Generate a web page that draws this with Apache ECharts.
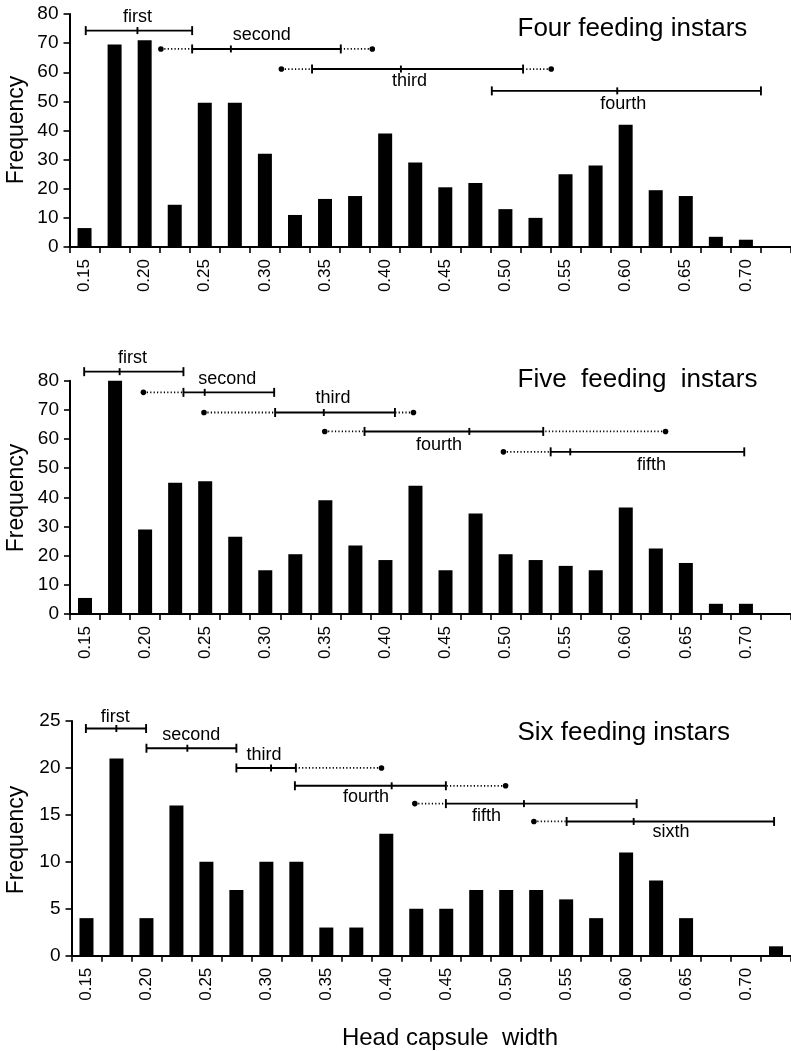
<!DOCTYPE html>
<html>
<head>
<meta charset="utf-8">
<title>Head capsule width frequency</title>
<script src="https://cdn.jsdelivr.net/npm/echarts@6/dist/echarts.min.js"></script>
<style>
  html, body { margin: 0; padding: 0; background: #fff; }
  #chart { width: 791px; height: 1051px; }
</style>
</head>
<body>
<div id="chart"></div>
<script>
// bin centres of head capsule width, 0.025 apart
const widthBins = ['0.150', '0.175', '0.200', '0.225', '0.250', '0.275', '0.300', '0.325',
  '0.350', '0.375', '0.400', '0.425', '0.450', '0.475', '0.500', '0.525',
  '0.550', '0.575', '0.600', '0.625', '0.650', '0.675', '0.700', '0.725']

// frequencies per bin
const fourFreq = [6.5, 69.5, 71, 14.5, 49.5, 49.5, 32, 11, 16.5, 17.5, 39, 29,
  20.5, 22, 13, 10, 25, 28, 42, 19.5, 17.5, 3.5, 2.5]
const fiveFreq = [5.5, 81, 29, 45, 45.5, 26.5, 15, 20.5, 39, 23.5, 18.5, 44,
  15, 34.5, 20.5, 18.5, 16.5, 15, 36.5, 22.5, 17.5, 3.5, 3.5]
const sixFreq = [4, 21, 4, 16, 10, 7, 10, 10, 3, 3, 13, 5,
  5, 7, 7, 7, 6, 4, 11, 8, 4, 0, 0, 1]

const instarNames = ['first', 'second', 'third', 'fourth', 'fifth', 'sixth']

// instar ranges: [dotted start, range start, mean, range end, dotted end]
const fourRanges = [
  [null, 0.151, 0.194, 0.2395, null],
  [0.2135, 0.2395, 0.2717, 0.3631, 0.3893],
  [0.3137, 0.3392, 0.4131, 0.5147, 0.5381],
  [null, 0.4887, 0.593, 0.7125, null]
]
const fiveRanges = [
  [null, 0.1493, 0.1788, 0.2319, null],
  [0.1986, 0.2319, 0.2496, 0.3074, null],
  [0.249, 0.3082, 0.3487, 0.4079, 0.4233],
  [0.3495, 0.3826, 0.4698, 0.5313, 0.6331],
  [0.4982, 0.5375, 0.5538, 0.6986, null]
]
const sixRanges = [
  [null, 0.1495, 0.1749, 0.1997, null],
  [null, 0.2, 0.2341, 0.275, null],
  [null, 0.275, 0.3039, 0.3246, 0.396],
  [null, 0.3238, 0.4045, 0.4497, 0.4995],
  [0.4238, 0.4497, 0.5148, 0.6088, null],
  [0.5231, 0.5504, 0.6063, 0.7234, null]
]

// where each range row is drawn: [frequency level, label x, label offset px]
const fourRows = [[74.3, 0.194, -14], [68.0, 0.2973, -14], [61.1, 0.4202, 12], [53.6, 0.598, 13]]
const fiveRows = [[83.1, 0.1895, -14], [76.0, 0.2683, -13], [69.1, 0.3564, -14], [62.6, 0.4445, 14], [55.6, 0.6215, 13]]
const sixRows = [[24.2, 0.174, -11], [22.1, 0.2374, -13], [20.0, 0.2981, -13], [18.1, 0.383, 11], [16.2, 0.4836, 12], [14.3, 0.6374, 11]]

const FONT = '"Liberation Sans", Arial, Helvetica, sans-serif'

const panels = [
  { freq: fourFreq, ranges: fourRanges, rows: fourRows, title: 'Four feeding instars',
    left: 69.5, top: 14, width: 726.5, height: 233, max: 80, step: 10, titleY: 29, nameY: 130 },
  { freq: fiveFreq, ranges: fiveRanges, rows: fiveRows, title: 'Five  feeding  instars',
    left: 70, top: 380.7, width: 726, height: 233.3, max: 80, step: 10, titleY: 380, nameY: 498 },
  { freq: sixFreq, ranges: sixRanges, rows: sixRows, title: 'Six feeding instars',
    left: 71.5, top: 721, width: 725, height: 234.7, max: 25, step: 5, titleY: 733, nameY: 840 }
]

const halfBin = 0.0125
const xMin = Number(widthBins[0]) - halfBin
const xMax = Number(widthBins[widthBins.length - 1]) + halfBin

// 画出每个龄期的范围线
function rangeRenderer(ranges, rows) {
  return function (params, api) {
    const r = ranges[params.dataIndex]
    const row = rows[params.dataIndex]
    const at = v => api.coord([v, row[0]])
    const y = at(r[1])[1]
    const solid = { stroke: '#000', lineWidth: 1.9 }
    const dotted = { stroke: '#000', lineWidth: 1.8, lineDash: [1.2, 2.2] }
    const kids = []
    kids.push({ type: 'line', shape: { x1: at(r[1])[0], y1: y, x2: at(r[3])[0], y2: y }, style: solid })
    ;[[r[1], 4.5], [r[2], 3.5], [r[3], 4.5]].forEach(([v, h]) => {
      const x = at(v)[0]
      kids.push({ type: 'line', shape: { x1: x, y1: y - h, x2: x, y2: y + h }, style: solid })
    })
    ;[[r[0], r[1]], [r[4], r[3]]].forEach(([d, c]) => {
      if (d == null) return
      const xd = at(d)[0]
      const xc = at(c)[0]
      kids.push({ type: 'line', shape: { x1: xd, y1: y, x2: xc, y2: y }, style: dotted })
      kids.push({ type: 'circle', shape: { cx: xd, cy: y, r: 2.8 }, style: { fill: '#000' } })
    })
    const lp = api.coord([row[1], row[0]])
    kids.push({
      type: 'text', x: lp[0], y: lp[1] + row[2],
      style: { text: instarNames[params.dataIndex], fill: '#000', font: '18px ' + FONT, align: 'center', verticalAlign: 'middle' }
    })
    return { type: 'group', children: kids }
  }
}

const grid = []
const xAxis = []
const yAxis = []
const series = []
const graphic = []

panels.forEach((p, k) => {
  grid.push({ left: p.left, top: p.top, width: p.width, height: p.height })

  xAxis.push({
    type: 'category', gridIndex: k, data: widthBins, boundaryGap: true,
    axisLine: { lineStyle: { color: '#000', width: 2 } },
    axisTick: { show: true, interval: 0, length: 6, lineStyle: { color: '#000', width: 1.6 } },
    axisLabel: {
      interval: 1, rotate: 90, margin: 12, color: '#000', fontSize: 17, fontFamily: FONT,
      formatter: v => Number(v).toFixed(2)
    },
    splitLine: { show: false }
  })

  yAxis.push({
    type: 'value', gridIndex: k, min: 0, max: p.max, interval: p.step,
    axisLine: { show: true, lineStyle: { color: '#000', width: 2 } },
    axisTick: { show: true, length: 6, lineStyle: { color: '#000', width: 1.6 } },
    axisLabel: { margin: 11, color: '#000', fontSize: 19, fontFamily: FONT },
    splitLine: { show: false }
  })

  series.push({
    type: 'bar', xAxisIndex: k, yAxisIndex: k, data: p.freq,
    barWidth: 14, itemStyle: { color: '#000' }, silent: true
  })

  graphic.push({
    type: 'text', x: 517.5, y: p.titleY,
    style: { text: p.title, fill: '#000', font: '26px ' + FONT, align: 'left', verticalAlign: 'middle' }
  })
  graphic.push({
    type: 'text', x: 17, y: p.nameY, rotation: Math.PI / 2,
    style: { text: 'Frequency', fill: '#000', font: '23px ' + FONT, align: 'center', verticalAlign: 'middle' }
  })
})

// hidden value axes so the range lines sit on the same width scale
panels.forEach((p, k) => {
  xAxis.push({ type: 'value', gridIndex: k, min: xMin, max: xMax, show: false })
  series.push({
    type: 'custom', xAxisIndex: panels.length + k, yAxisIndex: k, silent: true, clip: false,
    renderItem: rangeRenderer(p.ranges, p.rows),
    encode: { x: [0, 1], y: 2 },
    data: p.ranges.map((r, i) => [r[1], r[3], p.rows[i][0]])
  })
})

graphic.push({
  type: 'text', x: 450, y: 1038,
  style: { text: 'Head capsule  width', fill: '#000', font: '24px ' + FONT, align: 'center', verticalAlign: 'middle' }
})

const chart = echarts.init(document.getElementById('chart'))
chart.setOption({
  animation: false,
  backgroundColor: '#fff',
  grid,
  xAxis,
  yAxis,
  series,
  graphic
})

window.addEventListener('resize', () => {
  chart && chart.resize()
})
</script>
</body>
</html>
